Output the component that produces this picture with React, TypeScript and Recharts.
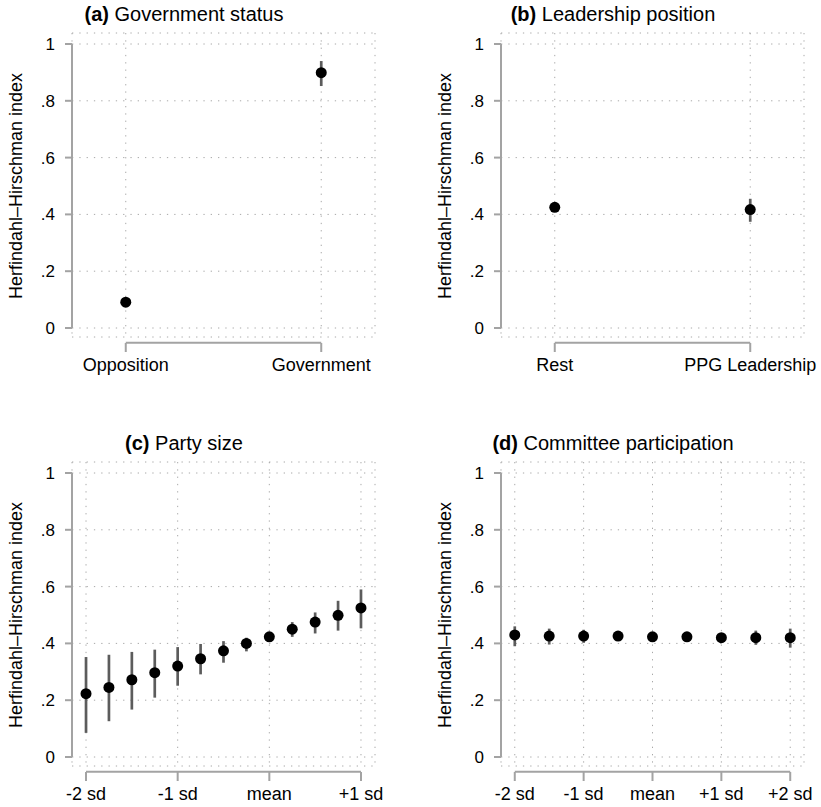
import React from "react";
import {
	ScatterChart,
	Scatter,
	XAxis,
	YAxis,
	CartesianGrid,
	ErrorBar,
	ReferenceLine,
} from "recharts";

const FONT = "'Liberation Sans', Arial, Helvetica, sans-serif";
const AXIS_COLOR = "#a3a3a3";
const GRID_COLOR = "#a8a8a8";
const CI_COLOR = "#5c5c5c";

const Y_TICKS = [0, 0.2, 0.4, 0.6, 0.8, 1];
const Y_TITLE = "Herfindahl–Hirschman index";

// (a) government status
const GOV_X = [1, 2];
const GOV_LABELS = ["Opposition", "Government"];
const GOV_EST = [0.091, 0.899];
const GOV_LO = [0.081, 0.852];
const GOV_HI = [0.101, 0.94];

// (b) leadership position
const LEAD_X = [1, 2];
const LEAD_LABELS = ["Rest", "PPG Leadership"];
const LEAD_EST = [0.425, 0.417];
const LEAD_LO = [0.415, 0.374];
const LEAD_HI = [0.435, 0.455];

// (c) party size, quarter-sd steps
const SIZE_X = [-2, -1.75, -1.5, -1.25, -1, -0.75, -0.5, -0.25, 0, 0.25, 0.5, 0.75, 1];
const SIZE_EST = [0.223, 0.245, 0.272, 0.297, 0.32, 0.346, 0.374, 0.4, 0.423, 0.45, 0.475, 0.499, 0.525];
const SIZE_LO = [0.085, 0.126, 0.167, 0.209, 0.251, 0.291, 0.332, 0.372, 0.41, 0.423, 0.435, 0.445, 0.453];
const SIZE_HI = [0.352, 0.36, 0.37, 0.378, 0.387, 0.398, 0.408, 0.42, 0.436, 0.475, 0.509, 0.55, 0.59];
const SIZE_TICKS = [-2, -1, 0, 1];
const SIZE_TICK_LABELS = ["-2 sd", "-1 sd", "mean", "+1 sd"];

// (d) committee participation, half-sd steps
const COMM_X = [-2, -1.5, -1, -0.5, 0, 0.5, 1, 1.5, 2];
const COMM_EST = [0.43, 0.426, 0.426, 0.426, 0.423, 0.423, 0.42, 0.42, 0.42];
const COMM_LO = [0.39, 0.396, 0.402, 0.41, 0.41, 0.41, 0.405, 0.395, 0.385];
const COMM_HI = [0.46, 0.452, 0.448, 0.442, 0.436, 0.436, 0.435, 0.445, 0.452];
const COMM_TICKS = [-2, -1, 0, 1, 2];
const COMM_TICK_LABELS = ["-2 sd", "-1 sd", "mean", "+1 sd", "+2 sd"];

// x-axis line sits a little below the plot region
const X_AXIS_DROP = -0.052;

const PANEL_W = 392;
const PANEL_H = 400;
const COL_OFFSET = 429;
const ROW_OFFSET = 429;

const fmtY = (v: number) => (v === 0 ? "0" : v === 1 ? "1" : String(v).replace(/^0/, ""));

function XTick(props: any) {
	const { x, y, payload, ticks, labels } = props;
	const i = ticks.indexOf(payload.value);
	return (
		<g>
			<line x1={x} x2={x} y1={y + 6} y2={y + 15} stroke={AXIS_COLOR} strokeWidth={2} />
			<text x={x} y={y + 34} textAnchor="middle" fontSize={18} fill="#000" fontFamily={FONT}>
				{labels[i]}
			</text>
		</g>
	);
}

function Dot(props: any) {
	return <circle cx={props.cx} cy={props.cy} r={5.5} fill="#000" />;
}

type PanelProps = {
	left: number;
	top: number;
	xs: number[];
	est: number[];
	lo: number[];
	hi: number[];
	ticks: number[];
	labels: string[];
	domain: [number, number];
};

function Panel({ left, top, xs, est, lo, hi, ticks, labels, domain }: PanelProps) {
	const rows = xs.map((x, i) => ({ x, est: est[i], err: [est[i] - lo[i], hi[i] - est[i]] }));
	return (
		<div style={{ position: "absolute", left, top }}>
			<ScatterChart
				width={PANEL_W}
				height={PANEL_H}
				margin={{ top: 33, right: 17, left: 32, bottom: 23 }}
			>
				<CartesianGrid stroke={GRID_COLOR} strokeDasharray="1.3 6" strokeWidth={1} />
				<XAxis
					type="number"
					dataKey="x"
					domain={domain}
					ticks={ticks}
					allowDataOverflow
					axisLine={false}
					tickLine={false}
					tickSize={0}
					tickMargin={0}
					height={40}
					interval={0}
					tick={(p: any) => <XTick {...p} ticks={ticks} labels={labels} />}
				/>
				<YAxis
					type="number"
					dataKey="est"
					domain={[0, 1]}
					ticks={Y_TICKS}
					padding={{ top: 11, bottom: 9 }}
					width={40}
					interval={0}
					axisLine={false}
					tickLine={{ stroke: AXIS_COLOR, strokeWidth: 2 }}
					tickSize={7}
					tickMargin={10}
					tickFormatter={fmtY}
					tick={{ fontSize: 17, fill: "#000", fontFamily: FONT }}
				/>
				<ReferenceLine
					segment={[{ x: domain[0], y: 0 }, { x: domain[0], y: 1 }]}
					stroke={AXIS_COLOR}
					strokeWidth={2}
					ifOverflow="visible"
				/>
				<ReferenceLine
					segment={[
						{ x: ticks[0], y: X_AXIS_DROP },
						{ x: ticks[ticks.length - 1], y: X_AXIS_DROP },
					]}
					stroke={AXIS_COLOR}
					strokeWidth={2}
					ifOverflow="visible"
				/>
				<Scatter data={rows} shape={<Dot />} isAnimationActive={false}>
					<ErrorBar
						dataKey="err"
						direction="y"
						width={0}
						stroke={CI_COLOR}
						strokeWidth={2.7}
						isAnimationActive={false}
					/>
				</Scatter>
			</ScatterChart>
		</div>
	);
}

const TITLES = [
	{ tag: "(a)", text: "Government status", col: 0, row: 0 },
	{ tag: "(b)", text: "Leadership position", col: 1, row: 0 },
	{ tag: "(c)", text: "Party size", col: 0, row: 1 },
	{ tag: "(d)", text: "Committee participation", col: 1, row: 1 },
];

export default function App() {
	return (
		<div style={{ position: "absolute", left: 0, top: 0, width: 821, height: 807, background: "#fff" }}>
			<Panel left={0} top={0} xs={GOV_X} est={GOV_EST} lo={GOV_LO} hi={GOV_HI}
				ticks={GOV_X} labels={GOV_LABELS} domain={[0.725, 2.275]} />
			<Panel left={COL_OFFSET} top={0} xs={LEAD_X} est={LEAD_EST} lo={LEAD_LO} hi={LEAD_HI}
				ticks={LEAD_X} labels={LEAD_LABELS} domain={[0.725, 2.275]} />
			<Panel left={0} top={ROW_OFFSET} xs={SIZE_X} est={SIZE_EST} lo={SIZE_LO} hi={SIZE_HI}
				ticks={SIZE_TICKS} labels={SIZE_TICK_LABELS} domain={[-2.153, 1.153]} />
			<Panel left={COL_OFFSET} top={ROW_OFFSET} xs={COMM_X} est={COMM_EST} lo={COMM_LO} hi={COMM_HI}
				ticks={COMM_TICKS} labels={COMM_TICK_LABELS} domain={[-2.2, 2.2]} />
			<svg width={821} height={807} style={{ position: "absolute", left: 0, top: 0, pointerEvents: "none" }}>
				{TITLES.map((t) => {
					const dx = t.col * COL_OFFSET;
					const dy = t.row * ROW_OFFSET;
					return (
						<g key={t.tag} fontFamily={FONT} fill="#000">
							<text x={184 + dx} y={21 + dy} textAnchor="middle" fontSize={20}>
								<tspan fontWeight="bold">{t.tag}</tspan> {t.text}
							</text>
							<text
								x={21.5 + dx}
								y={186 + dy}
								textAnchor="middle"
								fontSize={18}
								transform={`rotate(-90, ${21.5 + dx}, ${186 + dy})`}
							>
								{Y_TITLE}
							</text>
						</g>
					);
				})}
			</svg>
		</div>
	);
}
